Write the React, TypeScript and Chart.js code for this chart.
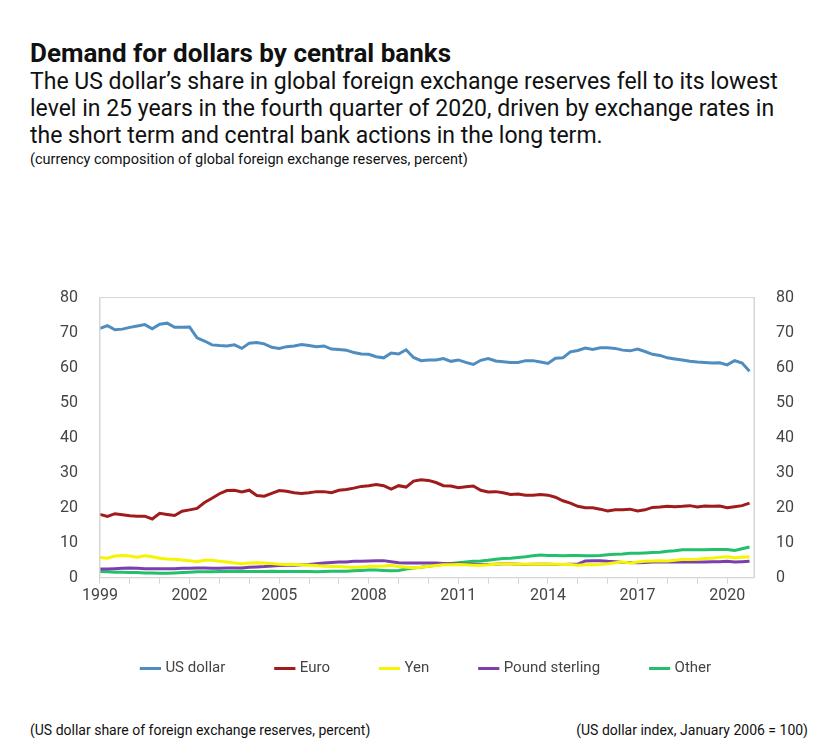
import React, { useEffect, useRef } from "react";
import { Chart, registerables } from "chart.js";
Chart.register(...registerables);

const startYear = 1999;
const usDollar = [71.2,72.0,70.8,71.0, 71.5,71.9,72.3,71.1, 72.4,72.7,71.5,71.5, 71.6,68.5,67.6,66.5, 66.3,66.2,66.5,65.5, 67.0,67.2,66.8,65.8, 65.5,66.0,66.2,66.6, 66.3,66.0,66.2,65.3, 65.2,65.0,64.3,63.9, 63.8,63.1,62.8,64.2, 63.9,65.1,62.9,62.0, 62.2,62.2,62.6,61.8, 62.2,61.5,60.9,62.1, 62.6,61.9,61.7,61.5, 61.5,62.0,62.0,61.6, 61.2,62.7,62.8,64.5, 64.9,65.6,65.2,65.7, 65.7,65.5,65.0,64.8, 65.3,64.6,63.8,63.5, 62.8,62.5,62.2,61.8, 61.6,61.5,61.3,61.4, 60.8,62.0,61.3,59.0];
const euro = [18.1,17.5,18.3,18.0, 17.7,17.6,17.6,16.8, 18.4,18.1,17.8,19.0, 19.4,19.8,21.5,22.7, 24.0,24.9,25.0,24.5, 25.0,23.5,23.3,24.1, 24.9,24.7,24.3,24.1, 24.3,24.6,24.6,24.3, 25.0,25.2,25.6,26.1, 26.3,26.6,26.3,25.3, 26.3,25.9,27.6,28.0, 27.8,27.2,26.3,26.2, 25.7,26.0,26.2,25.0, 24.5,24.6,24.3,23.8, 23.9,23.6,23.6,23.8, 23.6,23.0,22.0,21.3, 20.4,20.0,20.0,19.6, 19.1,19.4,19.4,19.6, 19.1,19.4,20.1,20.2, 20.4,20.3,20.4,20.6, 20.2,20.5,20.4,20.5, 20.0,20.3,20.6,21.3];
const yen = [5.8,5.6,6.2,6.4, 6.2,5.9,6.3,6.0, 5.6,5.4,5.3,5.1, 4.9,4.6,5.0,5.0, 4.7,4.5,4.2,4.0, 4.2,4.3,4.2,4.1, 3.9,3.8,3.8,3.7, 3.6,3.5,3.3,3.2, 3.2,3.1,3.0,3.1, 3.2,3.3,3.4,3.6, 3.2,3.0,2.9,3.0, 3.3,3.5,3.7,3.7, 3.8,3.7,3.6,3.6, 3.7,3.9,4.0,4.0, 3.9,3.9,3.9,3.9, 3.9,3.9,3.8,3.8, 3.6,3.7,3.7,3.8, 4.0,4.3,4.5,4.2, 4.5,4.7,4.8,4.9, 4.8,5.0,5.2,5.2, 5.3,5.5,5.6,5.9, 6.0,5.7,5.9,6.0];
const pound = [2.5,2.5,2.6,2.7, 2.8,2.7,2.6,2.6, 2.6,2.6,2.6,2.7, 2.7,2.8,2.8,2.7, 2.7,2.8,2.8,2.8, 3.0,3.1,3.2,3.4, 3.5,3.6,3.6,3.7, 3.8,4.0,4.2,4.4, 4.5,4.5,4.7,4.7, 4.8,4.9,4.9,4.6, 4.3,4.2,4.2,4.2, 4.2,4.2,4.1,4.0, 4.0,3.9,3.9,3.8, 3.8,3.9,4.0,4.0, 3.9,3.8,3.9,3.9, 3.9,3.8,3.8,3.9, 3.9,4.8,4.9,4.9, 4.7,4.6,4.4,4.4, 4.3,4.4,4.5,4.5, 4.6,4.5,4.5,4.5, 4.5,4.5,4.6,4.6, 4.7,4.5,4.6,4.7];
const other = [1.8,1.7,1.6,1.6, 1.5,1.5,1.4,1.4, 1.3,1.3,1.4,1.5, 1.6,1.7,1.7,1.7, 1.8,1.8,1.8,1.9, 1.8,1.8,1.8,1.9, 1.8,1.8,1.8,1.8, 1.8,1.7,1.8,1.9, 1.9,1.9,2.0,2.1, 2.2,2.2,2.1,2.0, 2.1,2.5,2.8,3.0, 3.3,3.6,3.9,4.1, 4.3,4.5,4.7,4.8, 5.0,5.3,5.5,5.6, 5.8,6.0,6.3,6.5, 6.4,6.4,6.3,6.4, 6.4,6.3,6.3,6.4, 6.6,6.7,6.8,7.0, 7.0,7.1,7.2,7.3, 7.6,7.7,8.0,8.0, 8.0,8.0,8.1,8.1, 8.1,7.8,8.3,8.8];
const seriesNames = ["US dollar", "Euro", "Yen", "Pound sterling", "Other"];
const seriesColors = ["#4f8dc0", "#a01c1c", "#f5f500", "#7b3fb0", "#22c06a"];
const yTicks = [0, 10, 20, 30, 40, 50, 60, 70, 80];

const toPoints = (arr: number[]) => arr.map((v, i) => ({ x: startYear + i / 4, y: v }));

const boxPlugin = {
  id: "box",
  afterDraw(chart: any) {
    const { ctx, chartArea: a } = chart;
    ctx.save();
    ctx.strokeStyle = "#d6d6d6";
    ctx.lineWidth = 1;
    ctx.strokeRect(a.left, a.top, a.right - a.left, a.bottom - a.top);
    ctx.restore();
  },
};

export default function App() {
  const ref = useRef<HTMLCanvasElement>(null);
  useEffect(() => {
    const all = [usDollar, euro, yen, pound, other];
    const yAxis = (pos: "left" | "right") => ({
      position: pos,
      min: 0,
      max: 80,
      afterBuildTicks: (s: any) => { s.ticks = yTicks.map((v) => ({ value: v })); },
      ticks: { color: "#444", font: { family: "Roboto", size: 16 }, padding: 22 },
      grid: { drawOnChartArea: false, drawTicks: false },
      border: { color: "#d6d6d6" },
    });
    const chart = new Chart(ref.current!, {
      type: "line",
      data: {
        datasets: all.map((d, i) => ({
          label: seriesNames[i],
          data: toPoints(d),
          borderColor: seriesColors[i],
          backgroundColor: seriesColors[i],
          borderWidth: 3,
          pointRadius: 0,
          tension: 0,
        })),
      },
      options: {
        animation: false,
        responsive: true,
        maintainAspectRatio: false,
        layout: { padding: { left: 8, right: 4, top: 0 } },
        plugins: {
          legend: {
            position: "bottom",
            labels: {
              usePointStyle: true,
              pointStyle: "line",
              boxWidth: 30,
              color: "#444",
              font: { family: "Roboto", size: 15 },
              padding: 52,
            },
          },
          tooltip: { enabled: false },
        },
        scales: {
          x: {
            type: "linear",
            min: 1999,
            max: 2020.9,
            afterBuildTicks: (s: any) => {
              const t = [];
              for (let y = 1999; y <= 2020; y++) t.push({ value: y });
              s.ticks = t;
            },
            ticks: {
              autoSkip: false,
              maxRotation: 0,
              color: "#444",
              font: { family: "Roboto", size: 16 },
              callback: (v: any) => ((v - 1999) % 3 === 0 ? String(v) : ""),
            },
            grid: { drawOnChartArea: false, tickLength: 6, color: "#d6d6d6" },
            border: { color: "#d6d6d6" },
          },
          y: yAxis("left") as any,
          y2: yAxis("right") as any,
        },
      },
      plugins: [boxPlugin],
    });
    return () => chart.destroy();
  }, []);

  return (
    <div style={{ width: 820, height: 739, background: "#fff", fontFamily: "Roboto", color: "#111", position: "relative" }}>
      <div style={{ position: "absolute", left: 22, top: 30, width: 780 }}>
        <div style={{ fontSize: 26, fontWeight: 700, lineHeight: "30px" }}>Demand for dollars by central banks</div>
        <div style={{ fontSize: 23, lineHeight: "27px" }}>
          The US dollar’s share in global foreign exchange reserves fell to its lowest level in 25 years in the fourth quarter of 2020, driven by exchange rates in the short term and central bank actions in the long term.
        </div>
        <div style={{ fontSize: 14.5, lineHeight: "22px" }}>(currency composition of global foreign exchange reserves, percent)</div>
      </div>
      <div style={{ position: "absolute", left: 22, top: 258, width: 790, height: 420 }}>
        <canvas ref={ref} />
      </div>
      <div style={{ position: "absolute", left: 22, top: 714, fontSize: 14 }}>(US dollar share of foreign exchange reserves, percent)</div>
      <div style={{ position: "absolute", right: 20, top: 714, fontSize: 14 }}>(US dollar index, January 2006 = 100)</div>
    </div>
  );
}
